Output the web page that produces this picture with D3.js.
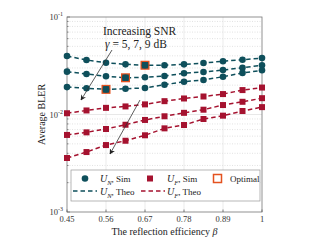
<!DOCTYPE html>
<html>
<head>
<meta charset="utf-8">
<script src="https://cdn.jsdelivr.net/npm/d3@7"></script>
<style>
  body { margin: 0; background: #fff; }
  svg { display: block; }
  svg text { font-family: "Liberation Serif", "Times New Roman", "DejaVu Serif", "Noto Serif", serif; }
  .tick-label { font-size: 8.5px; fill: #333; }
  .axis-title { font-size: 10px; fill: #222; }
  .legend-label { font-size: 9px; fill: #222; }
</style>
</head>
<body>
<svg id="chart" width="319" height="240"></svg>
<script>
const BETA = [0.45, 0.505, 0.56, 0.615, 0.67, 0.725, 0.78, 0.835, 0.89, 0.945, 1];
const X_TICKS = [0.45, 0.56, 0.67, 0.78, 0.89, 1];
const Y_TICKS = [1e-3, 1e-2, 1e-1];

// near user, gamma = 5, 7, 9 dB
const UN_5 = [0.0398, 0.0362, 0.0340, 0.0327, 0.0320, 0.0320, 0.0327, 0.0337, 0.0352, 0.0365, 0.0379];
const UN_7 = [0.0275, 0.0260, 0.0247, 0.0238, 0.0241, 0.0248, 0.0265, 0.0273, 0.0286, 0.0302, 0.0320];
const UN_9 = [0.0191, 0.0186, 0.0181, 0.0184, 0.0187, 0.0202, 0.0217, 0.0226, 0.0244, 0.0267, 0.0284];
// far user
const UF_5 = [0.0103, 0.0110, 0.0117, 0.0121, 0.0127, 0.0137, 0.0146, 0.0153, 0.0162, 0.0178, 0.0189];
const UF_7 = [0.00617, 0.00656, 0.00710, 0.00785, 0.00879, 0.00959, 0.0104, 0.0112, 0.0125, 0.0135, 0.0147];
const UF_9 = [0.00358, 0.00412, 0.00486, 0.00538, 0.00612, 0.00721, 0.00780, 0.00899, 0.00973, 0.01086, 0.0119];
// optimal beta per SNR (on the U_N curves)
const OPT_IDX = [4, 3, 2];

const TEAL = "#0e4f5b";
const RED = "#a5122f";
const ORANGE = "#e4521f";

const MARGIN = { top: 17, right: 57, bottom: 28, left: 67 };
const W = 319, H = 240;
const iw = W - MARGIN.left - MARGIN.right;
const ih = H - MARGIN.top - MARGIN.bottom;

const svg = d3.select("#chart");
const g = svg.append("g").attr("transform", `translate(${MARGIN.left},${MARGIN.top})`);

const x = d3.scaleLinear().domain([0.45, 1]).range([0, iw]);
const y = d3.scaleLog().domain([1e-3, 1e-1]).range([ih, 0]);

// grid
const minor = [];
[1e-3, 1e-2].forEach(d => { for (let k = 2; k <= 9; k++) minor.push(d * k); });
g.selectAll(".minor").data(minor).join("line")
  .attr("x1", 0).attr("x2", iw)
  .attr("y1", d => y(d)).attr("y2", d => y(d))
  .attr("stroke", "#cfcfcf").attr("stroke-width", 0.6).attr("stroke-dasharray", "1,1.5");
g.selectAll(".hmajor").data([1e-2]).join("line")
  .attr("x1", 0).attr("x2", iw)
  .attr("y1", d => y(d)).attr("y2", d => y(d))
  .attr("stroke", "#dedede").attr("stroke-width", 0.7);
g.selectAll(".vmajor").data(X_TICKS.slice(1, -1)).join("line")
  .attr("x1", d => x(d)).attr("x2", d => x(d))
  .attr("y1", 0).attr("y2", ih)
  .attr("stroke", "#e2e2e2").attr("stroke-width", 0.7);

// frame
g.append("rect").attr("width", iw).attr("height", ih)
  .attr("fill", "none").attr("stroke", "#777").attr("stroke-width", 0.8);

// ticks
X_TICKS.forEach(t => {
  g.append("line").attr("x1", x(t)).attr("x2", x(t)).attr("y1", ih).attr("y2", ih - 2.5)
    .attr("stroke", "#555").attr("stroke-width", 0.7);
  g.append("text").attr("class", "tick-label")
    .attr("x", x(t)).attr("y", ih + 10).attr("text-anchor", "middle").text(t);
});
minor.concat(Y_TICKS).forEach(t => {
  const len = Y_TICKS.includes(t) ? 3 : 1.6;
  g.append("line").attr("x1", 0).attr("x2", len).attr("y1", y(t)).attr("y2", y(t))
    .attr("stroke", "#555").attr("stroke-width", 0.6);
});
Y_TICKS.forEach(t => {
  const tx = g.append("text").attr("class", "tick-label")
    .attr("x", -4).attr("y", y(t) + 3).attr("text-anchor", "end");
  tx.append("tspan").text("10");
  tx.append("tspan").attr("dy", -4).attr("font-size", 6).text(Math.round(Math.log10(t)));
});

// axis titles
svg.append("text").attr("class", "axis-title")
  .attr("x", MARGIN.left + iw / 2).attr("y", 235).attr("text-anchor", "middle")
  .html('The reflection efficiency <tspan font-style="italic">β</tspan>');
svg.append("text").attr("class", "axis-title")
  .attr("transform", `translate(45,${MARGIN.top + ih / 2}) rotate(-90)`)
  .attr("text-anchor", "middle").text("Average BLER");

// curves
const line = d3.line().x((d, i) => x(BETA[i])).y(d => y(d));
const series = [
  { v: UN_5, c: TEAL, m: "circle" }, { v: UN_7, c: TEAL, m: "circle" }, { v: UN_9, c: TEAL, m: "circle" },
  { v: UF_5, c: RED, m: "square" }, { v: UF_7, c: RED, m: "square" }, { v: UF_9, c: RED, m: "square" }
];
series.forEach(s => {
  g.append("path").attr("d", line(s.v)).attr("fill", "none")
    .attr("stroke", s.c).attr("stroke-width", 1.5).attr("stroke-dasharray", "4.5,3");
});
// optimal squares below the markers
OPT_IDX.forEach((k, i) => {
  const v = series[i].v[k];
  g.append("rect").attr("x", x(BETA[k]) - 4.5).attr("y", y(v) - 4.5)
    .attr("width", 9).attr("height", 9).attr("fill", ORANGE);
});
series.forEach(s => {
  if (s.m === "circle") {
    g.selectAll(null).data(s.v).join("circle")
      .attr("cx", (d, i) => x(BETA[i])).attr("cy", d => y(d)).attr("r", 3.3).attr("fill", s.c);
  } else {
    g.selectAll(null).data(s.v).join("rect")
      .attr("x", (d, i) => x(BETA[i]) - 3).attr("y", d => y(d) - 3)
      .attr("width", 6).attr("height", 6).attr("fill", s.c);
  }
});
OPT_IDX.forEach((k, i) => {
  const v = series[i].v[k];
  g.append("rect").attr("x", x(BETA[k]) - 3.2).attr("y", y(v) - 3.2)
    .attr("width", 6.4).attr("height", 6.4).attr("fill", TEAL);
});

// annotation
svg.append("defs").append("marker").attr("id", "ah")
  .attr("viewBox", "0 0 10 10").attr("refX", 9).attr("refY", 5)
  .attr("markerWidth", 7).attr("markerHeight", 7).attr("orient", "auto")
  .append("path").attr("d", "M0,0 L10,5 L0,10 L3,5 Z").attr("fill", "#222");
svg.append("text").attr("x", 103).attr("y", 35).attr("font-size", 11.5).attr("fill", "#222")
  .text("Increasing SNR");
svg.append("text").attr("x", 105).attr("y", 48).attr("font-size", 11.5).attr("fill", "#222")
  .html('<tspan font-style="italic">γ</tspan> = 5, 7, 9 dB');
svg.append("line").attr("x1", 112).attr("y1", 50).attr("x2", 81).attr("y2", 100)
  .attr("stroke", "#333").attr("stroke-width", 0.8).attr("marker-end", "url(#ah)");
svg.append("line").attr("x1", 140).attr("y1", 100).attr("x2", 110).attr("y2", 154)
  .attr("stroke", "#333").attr("stroke-width", 0.8).attr("marker-end", "url(#ah)");

// legend
const lg = svg.append("g").attr("transform", "translate(71,170)");
lg.append("rect").attr("width", 189).attr("height", 31)
  .attr("fill", "#fff").attr("stroke", "#999").attr("stroke-width", 0.7);
lg.append("circle").attr("cx", 14).attr("cy", 8.5).attr("r", 3.3).attr("fill", TEAL);
lg.append("rect").attr("x", 76).attr("y", 5.5).attr("width", 6).attr("height", 6).attr("fill", RED);
lg.append("rect").attr("x", 142.5).attr("y", 4.5).attr("width", 8).attr("height", 8)
  .attr("fill", "#fff").attr("stroke", ORANGE).attr("stroke-width", 1.5);
lg.append("line").attr("x1", 2).attr("x2", 26).attr("y1", 21).attr("y2", 21)
  .attr("stroke", TEAL).attr("stroke-width", 1.5).attr("stroke-dasharray", "4.5,3");
lg.append("line").attr("x1", 70).attr("x2", 94).attr("y1", 21).attr("y2", 21)
  .attr("stroke", RED).attr("stroke-width", 1.5).attr("stroke-dasharray", "4.5,3");

function userLabel(lx, ly, sub, tail) {
  const t = lg.append("text").attr("class", "legend-label").attr("x", lx).attr("y", ly);
  t.append("tspan").attr("font-style", "italic").attr("font-size", 10).text("U");
  t.append("tspan").attr("font-style", "italic").attr("font-size", 6.5).attr("dy", 3).text(sub);
  t.append("tspan").attr("dy", -3).text(", " + tail);
}
userLabel(29, 11.5, "N", "Sim");
userLabel(96, 11.5, "F", "Sim");
userLabel(29, 24.5, "N", "Theo");
userLabel(96, 24.5, "F", "Theo");
lg.append("text").attr("class", "legend-label").attr("x", 159).attr("y", 11.5).text("Optimal");
</script>
</body>
</html>
